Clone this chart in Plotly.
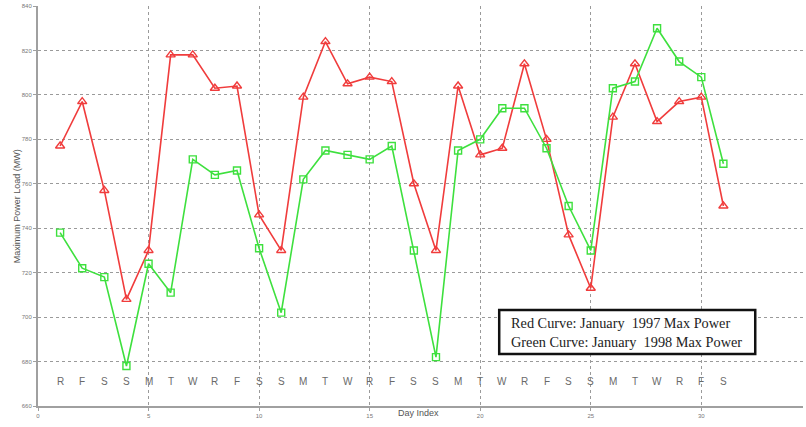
import plotly.graph_objects as go

# Daily maximum power load, January 1997 vs January 1998
days = list(range(1, 32))
weekday_letters = ["R", "F", "S", "S", "M", "T", "W", "R", "F", "S", "S", "M", "T", "W", "R", "F",
                   "S", "S", "M", "T", "W", "R", "F", "S", "S", "M", "T", "W", "R", "F", "S"]
load_1997 = [777, 797, 757, 708, 730, 818, 818, 803, 804, 746, 730, 799, 824, 805, 808, 806,
             760, 730, 804, 773, 776, 814, 780, 737, 713, 790, 814, 788, 797, 799, 750]
load_1998 = [738, 722, 718, 678, 724, 711, 771, 764, 766, 731, 702, 762, 775, 773, 771, 777,
             730, 682, 775, 780, 794, 794, 776, 750, 730, 803, 806, 830, 815, 808, 769]
x_ticks = [0, 5, 10, 15, 20, 25, 30]
y_ticks = [660, 680, 700, 720, 740, 760, 780, 800, 820, 840]
legend_lines = ["Red Curve: January  1997 Max Power", "Green Curve: January  1998 Max Power"]

RED = "#f03c3c"
GREEN = "#3ee03e"
GRID = "#9a9a9a"
AXIS = "#a0a0a0"

fig = go.Figure()
fig.add_trace(go.Scatter(
    x=days, y=load_1997, mode="lines+markers",
    line=dict(color=RED, width=1.6),
    marker=dict(symbol="triangle-up-open", size=8, color=RED, line=dict(width=1.4)),
    showlegend=False,
))
fig.add_trace(go.Scatter(
    x=days, y=load_1998, mode="lines+markers",
    line=dict(color=GREEN, width=1.6),
    marker=dict(symbol="square-open", size=7, color=GREEN, line=dict(width=1.4)),
    showlegend=False,
))

# weekday letter row just above the x axis
for d, letter in zip(days, weekday_letters):
    fig.add_annotation(x=d, y=671, text=letter, showarrow=False,
                       font=dict(family="Arial", size=10, color="#6a6a6a"))

# axis titles
fig.add_annotation(xref="paper", yref="paper", x=-0.027, y=0.5, text="Maximum Power Load (MW)",
                   textangle=-90, showarrow=False, xanchor="center", yanchor="middle",
                   font=dict(family="Arial", size=9, color="#555555"))
fig.add_annotation(xref="paper", yref="paper", x=0.498, y=-0.018, text="Day Index",
                   showarrow=False, xanchor="center", yanchor="middle",
                   font=dict(family="Arial", size=9, color="#555555"))

# boxed text key: white frame with a heavy black border, text placed inside
fig.add_shape(type="rect", x0=20.86, x1=32.44, y0=683.4, y1=703.2,
              line=dict(color="#111111", width=2.5), fillcolor="white", layer="above")
fig.add_annotation(x=21.31, y=693.3, xanchor="left", yanchor="middle", align="left",
                   text="<br>".join(legend_lines), showarrow=False,
                   font=dict(family="Liberation Serif, Times New Roman, serif", size=14.3,
                             color="#222222"))

fig.update_layout(
    width=806, height=427,
    margin=dict(l=38, r=3, t=6, b=21),
    paper_bgcolor="white", plot_bgcolor="white",
    xaxis=dict(range=[0, 34.6], tickvals=x_ticks, ticktext=[str(v) for v in x_ticks],
               showgrid=True, gridcolor=GRID, griddash="dot", gridwidth=1,
               showline=True, linecolor=AXIS, linewidth=2, mirror=False,
               ticks="outside", ticklen=3, tickcolor=AXIS,
               tickfont=dict(family="Arial", size=6, color="#777777"), zeroline=False),
    yaxis=dict(range=[660, 840], tickvals=y_ticks, ticktext=[str(v) for v in y_ticks],
               showgrid=True, gridcolor=GRID, griddash="dot", gridwidth=1,
               showline=True, linecolor=AXIS, linewidth=2,
               ticks="outside", ticklen=3, tickcolor=AXIS,
               tickfont=dict(family="Arial", size=6, color="#777777"), zeroline=False),
)

fig.write_html("out.html")
